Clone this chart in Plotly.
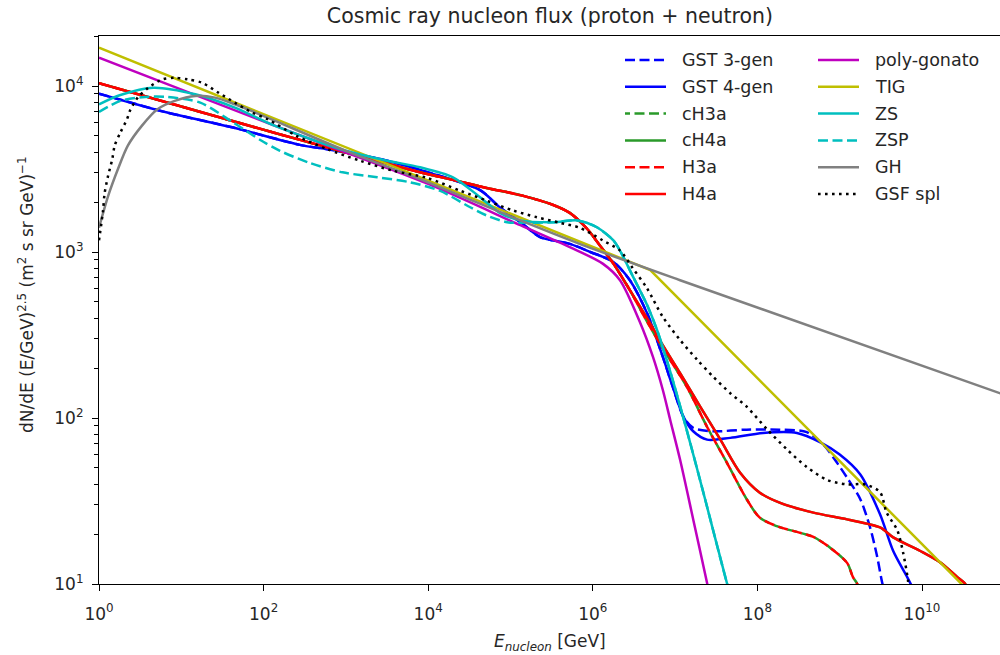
import plotly.graph_objects as go

# ---------------- data ----------------
gst4_E = [1, 6.76, 42.7, 275, 692, 3160, 1e4, 4.27e4, 7.41e4, 1.32e5, 2.29e5, 3.31e5, 5.25e5,
          9.33e5, 1.78e6, 2.82e6, 4.57e6, 7.08e6, 9.33e6, 1.26e7, 1.66e7, 2.45e7, 4.68e7, 1.17e8,
          3.02e8, 5.75e8, 1e9, 1.78e9, 3.09e9, 4.47e9, 6.61e9, 9.33e9]
gst4_flux = [9000, 6920, 5620, 4420, 4110, 3550, 3020, 2360, 1860, 1510, 1230, 1175, 1120,
             1000, 871, 676, 427, 234, 155, 102, 83.2, 74.1, 75.9, 81.3,
             81.3, 71.6, 60.3, 45.7, 26.3, 15.8, 11.0, 7.9]

gst3_E = [1, 6.76, 42.7, 275, 692, 3160, 1e4, 4.27e4, 7.41e4, 1.32e5, 2.29e5, 3.31e5, 5.25e5,
          9.33e5, 1.78e6, 2.82e6, 4.57e6, 7.08e6, 9.33e6, 1.26e7, 1.66e7, 2.88e7, 7.41e7, 1.86e8,
          3.98e8, 6.31e8, 8.71e8, 1.23e9, 1.78e9, 2.34e9, 2.82e9, 3.24e9, 3.47e9]
gst3_flux = [9000, 6920, 5620, 4420, 4110, 3550, 3020, 2360, 1860, 1510, 1230, 1175, 1120,
             1000, 871, 676, 427, 234, 155, 102, 87.1, 83.2, 85.1, 85.1,
             82.2, 69.2, 56.2, 43.7, 32.4, 21.9, 15.0, 10.5, 9.1]

h3a_E = [1, 138, 1000, 7940, 2e4, 5.13e4, 1.32e5, 3.31e5, 5.25e5, 8.51e5, 1.26e6, 1.78e6,
         2.82e6, 4.57e6, 7.08e6, 1.38e7, 2.45e7, 4.27e7, 7.41e7, 1.07e8, 1.86e8, 3.02e8,
         4.79e8, 7.59e8, 1.23e9, 1.45e9, 1.62e9, 1.78e9]
h3a_flux = [10400, 5210, 3980, 3020, 2720, 2430, 2200, 1920, 1720, 1380, 1070, 851,
            589, 380, 263, 155, 88.3, 53.7, 32.4, 25.1, 22.0, 20.6,
            19.2, 16.6, 13.4, 11.0, 10.1, 8.9]
ch3a_E = list(h3a_E)
ch3a_flux = list(h3a_flux)

h4a_E = [1, 138, 1000, 7940, 2e4, 5.13e4, 1.32e5, 3.31e5, 5.25e5, 8.51e5, 1.26e6, 1.78e6,
         2.82e6, 4.57e6, 7.08e6, 1.15e7, 2e7, 3.55e7, 6.17e7, 1.07e8, 1.86e8, 4.79e8, 1.23e9,
         3.09e9, 4.47e9, 9.55e9, 1.66e10, 2.69e10, 3.31e10, 3.8e10]
h4a_flux = [10400, 5210, 3980, 3020, 2720, 2430, 2200, 1920, 1720, 1380, 1070, 851,
            589, 398, 275, 186, 118, 74.1, 46.8, 35.5, 30.9, 26.9, 24.5,
            21.9, 19.1, 15.8, 13.5, 11.0, 10.1, 8.9]
ch4a_E = list(h4a_E)
ch4a_flux = list(h4a_flux)

poly_E = [1, 138, 1e4, 1.32e5, 5.25e5, 1.32e6, 2.14e6, 3.72e6, 5.37e6, 7.08e6, 8.71e6,
          1.15e7, 1.66e7, 2.45e7, 2.63e7]
poly_flux = [14800, 5750, 2570, 1450, 1070, 851, 676, 380, 234, 148, 97.7,
             56, 24.5, 10.1, 8.5]

tig_E = [1, 5e6, 1e11]
tig_flux = [17000, 778, 5.5]

zs_E = [1, 1.82, 4.57, 14.8, 44.7, 138, 1000, 3160, 7940, 2e4, 4.27e4, 7.41e4, 1.32e5,
        3.31e5, 6.46e5, 1.12e6, 1.78e6, 2.14e6, 3.09e6, 4.57e6, 6.03e6, 8.71e6, 1.38e7,
        2.29e7, 4.27e7, 4.68e7]
zs_flux = [7760, 8830, 9770, 8910, 7410, 5750, 4070, 3550, 3240, 2820, 2140, 1720, 1550,
           1510, 1550, 1410, 1175, 1020, 708, 479, 339, 191, 85.1,
           33.1, 10.1, 8.7]

zsp_E = [1, 1.82, 3.63, 6.76, 17.0, 42.7, 91.2, 158, 363, 912, 2400, 6030, 1.38e4, 3.24e4,
         5.13e4, 9.12e4, 1.32e5, 3.31e5, 6.46e5, 1.12e6, 1.78e6, 2.14e6, 3.09e6, 4.57e6,
         6.03e6, 8.71e6, 1.38e7, 2.29e7, 4.27e7, 4.68e7]
zsp_flux = [6970, 8130, 8590, 8590, 7940, 6030, 4730, 4070, 3440, 3020, 2820, 2630, 2340, 1860,
            1660, 1510, 1500, 1510, 1550, 1410, 1175, 1020, 708, 479,
            339, 191, 85.1, 33.1, 10.1, 8.7]

gh_E = [1, 1.29, 1.70, 2.24, 3.31, 5.13, 8.32, 14.8, 25.7, 44.7, 79.4, 138, 1000, 7940,
        1.32e5, 6.92e5, 1.15e7, 1e11]
gh_flux = [1400, 2170, 3160, 4370, 5750, 7240, 8130, 8710, 8510, 7760, 6920, 6170, 4070, 2750,
           1550, 1120, 676, 138]

gsf_E = [1, 1.12, 1.17, 1.29, 1.45, 1.55, 1.82, 2.19, 2.40, 2.95, 3.98, 5.89, 8.32, 12.0,
         17.8, 28.2, 44.7, 72.4, 112, 251, 589, 1480, 3720, 9770, 2.45e4, 5.13e4, 1.07e5,
         2.09e5, 3.98e5, 6.92e5, 1.32e6, 2.14e6, 3.09e6, 4.57e6, 7.08e6, 1.15e7, 1.86e7,
         2.88e7, 4.68e7, 7.41e7, 1.32e8, 2.29e8, 3.98e8, 7.08e8, 1.23e9, 2.04e9, 3.09e9,
         3.72e9, 5.01e9, 5.89e9, 6.76e9, 6.92e9]
gsf_flux = [1175, 1780, 2260, 2880, 3630, 4370, 5250, 6310, 7160, 8510, 9770, 10960, 11200, 10960,
            10470, 9120, 7940, 6920, 6310, 5010, 4170, 3550, 3090, 2790, 2340, 2040, 1780,
            1620, 1500, 1400, 1175, 1020, 794, 603, 407, 295, 224,
            178, 141, 117, 85.1, 64.6, 50.7, 42.3, 39.8, 39.8, 35.8,
            26.9, 21.1, 15.5, 10.5, 8.9]

x_tick_vals = [1e0, 1e2, 1e4, 1e6, 1e8, 1e10]
x_tick_text = ["10<sup>0</sup>", "10<sup>2</sup>", "10<sup>4</sup>", "10<sup>6</sup>",
               "10<sup>8</sup>", "10<sup>10</sup>"]
y_tick_vals = [1e1, 1e2, 1e3, 1e4]
y_tick_text = ["10<sup>1</sup>", "10<sup>2</sup>", "10<sup>3</sup>", "10<sup>4</sup>"]
y_minor_vals = [m * 10 ** k for k in range(1, 5) for m in range(2, 10)]

# ---------------- styling ----------------
FONT = "DejaVu Sans"
LW = 2.5
DASH = "10px,4.5px"
DASH_G = "5px,4.5px,5px,0px"   # green dash phase-shifted so it shows in the red gaps
DOT = "2.6px,4.4px"

series = [
    ("GST 3-gen", gst3_E, gst3_flux, "#0000ff", DASH),
    ("GST 4-gen", gst4_E, gst4_flux, "#0000ff", "solid"),
    ("cH3a", ch3a_E, ch3a_flux, "#2a9a2a", DASH_G),
    ("cH4a", ch4a_E, ch4a_flux, "#2a9a2a", "solid"),
    ("H3a", h3a_E, h3a_flux, "#ff0000", DASH),
    ("H4a", h4a_E, h4a_flux, "#ff0000", "solid"),
    ("poly-gonato", poly_E, poly_flux, "#bf00bf", "solid"),
    ("TIG", tig_E, tig_flux, "#bfbf00", "solid"),
    ("ZS", zs_E, zs_flux, "#00bfbf", "solid"),
    ("ZSP", zsp_E, zsp_flux, "#00bfbf", DASH),
    ("GH", gh_E, gh_flux, "#808080", "solid"),
    ("GSF spl", gsf_E, gsf_flux, "#000000", DOT),
]

fig = go.Figure()
for name, ex, fy, col, dash in series:
    shape = "linear" if name == "TIG" else "spline"
    fig.add_trace(go.Scatter(
        x=ex, y=fy, mode="lines", name=name,
        line=dict(color=col, width=LW, dash=dash, shape=shape, smoothing=0.8),
        showlegend=False,
    ))

# plot-area geometry (pixels)
L, T, B, W, H = 99, 36, 584, 1000, 655
PW, PH = W - L, B - T


def px(xp):
    return (xp - L) / PW


def py(yp):
    return (B - yp) / PH


# manual two-column legend
shapes = []
annotations = []
row_y = [60 + 26.8 * i for i in range(6)]
cols = [(625, 666, 680), (818, 859, 873)]
for i, (name, ex, fy, col, dash) in enumerate(series):
    c = i // 6
    r = i % 6
    x0, x1, xt = cols[c]
    shapes.append(dict(type="line", xref="paper", yref="paper",
                       x0=px(x0), x1=px(x1), y0=py(row_y[r]), y1=py(row_y[r]),
                       line=dict(color=col, width=LW, dash=dash)))
    annotations.append(dict(text=name, xref="paper", yref="paper", x=px(xt), y=py(row_y[r]),
                            xanchor="left", yanchor="middle", showarrow=False,
                            font=dict(family=FONT, size=17.5, color="#262626")))

annotations.append(dict(
    text="dN/dE (E/GeV)<sup>2.5</sup> (m<sup>2</sup> s sr GeV)<sup>\u22121</sup>",
    xref="paper", yref="paper", x=px(26), y=py(295), textangle=-90,
    xanchor="center", yanchor="middle", showarrow=False,
    font=dict(family=FONT, size=17, color="#262626")))
annotations.append(dict(
    text="<i>E<sub>nucleon</sub></i> [GeV]",
    xref="paper", yref="paper", x=px(550), y=py(642),
    xanchor="center", yanchor="middle", showarrow=False,
    font=dict(family=FONT, size=17, color="#262626")))

fig.update_layout(
    width=W, height=H,
    margin=dict(l=L, r=0, t=T, b=H - B, pad=0),
    paper_bgcolor="white", plot_bgcolor="white",
    title=dict(text="Cosmic ray nucleon flux (proton + neutron)",
               x=px(550), xref="paper", xanchor="center",
               y=1 - 16 / H, yref="container", yanchor="middle",
               font=dict(family=FONT, size=20.5, color="#262626")),
    shapes=shapes, annotations=annotations,
    showlegend=False,
)
fig.update_xaxes(
    type="log", range=[0, (W - L) / 82.3], showgrid=False, zeroline=False,
    showline=True, linecolor="black", linewidth=1.2, mirror=True,
    ticks="outside", ticklen=6, tickwidth=1.2, tickcolor="black",
    tickmode="array", tickvals=x_tick_vals, ticktext=x_tick_text,
    ticklabelstandoff=8,
    tickfont=dict(family=FONT, size=17, color="#262626"),
)
fig.update_yaxes(
    type="log", range=[1, 1 + PH / 166.0], showgrid=False, zeroline=False,
    showline=True, linecolor="black", linewidth=1.2, mirror=False,
    ticks="outside", ticklen=6, tickwidth=1.2, tickcolor="black",
    tickmode="array", tickvals=y_tick_vals, ticktext=y_tick_text,
    ticklabelstandoff=5,
    tickfont=dict(family=FONT, size=17, color="#262626"),
    minor=dict(ticks="outside", ticklen=3.5, tickwidth=1, tickcolor="black",
               tickmode="array", tickvals=y_minor_vals, showgrid=False),
)

fig.write_html("out.html")
